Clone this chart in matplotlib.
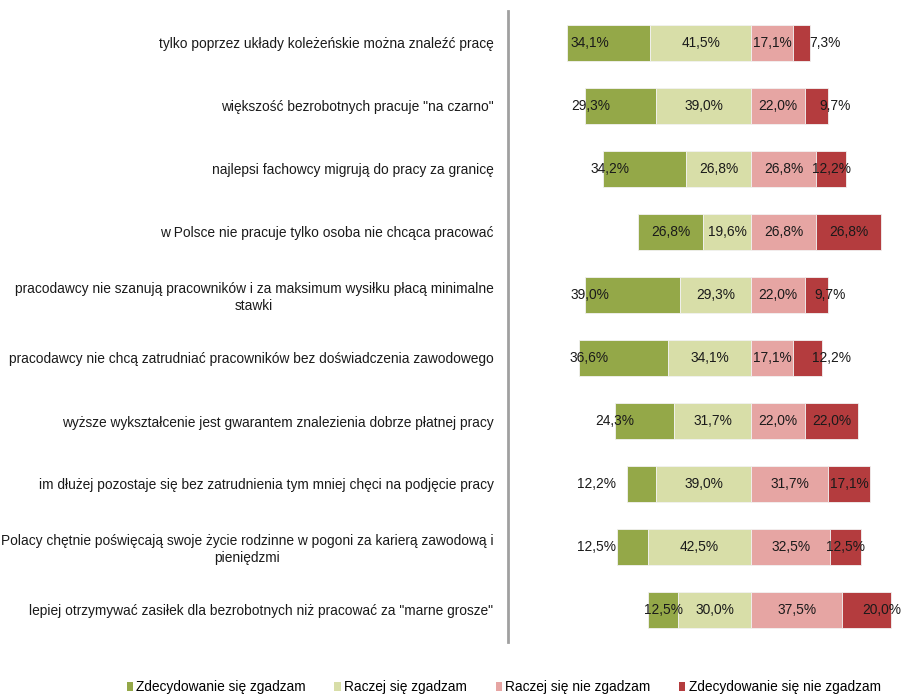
import matplotlib
matplotlib.use("Agg")
import matplotlib.pyplot as plt
import numpy as np
from matplotlib.patches import Patch

plt.rcParams['font.family'] = ['Liberation Sans Narrow', 'Liberation Sans', 'DejaVu Sans']

statements = [
    'tylko poprzez układy koleżeńskie można znaleźć pracę',
    'większość bezrobotnych pracuje "na czarno"',
    'najlepsi fachowcy migrują do pracy za granicę',
    'w Polsce nie pracuje tylko osoba nie chcąca pracować',
    'pracodawcy nie szanują pracowników i za maksimum wysiłku płacą minimalne\nstawki',
    'pracodawcy nie chcą zatrudniać pracowników bez doświadczenia zawodowego',
    'wyższe wykształcenie jest gwarantem znalezienia dobrze płatnej pracy',
    'im dłużej pozostaje się bez zatrudnienia tym mniej chęci na podjęcie pracy',
    'Polacy chętnie poświęcają swoje życie rodzinne w pogoni za karierą zawodową i\npieniędzmi',
    'lepiej otrzymywać zasiłek dla bezrobotnych niż pracować za "marne grosze"',
]
strongly_agree = [34.1, 29.3, 34.2, 26.8, 39.0, 36.6, 24.3, 12.2, 12.5, 12.5]
rather_agree = [41.5, 39.0, 26.8, 19.6, 29.3, 34.1, 31.7, 39.0, 42.5, 30.0]
rather_disagree = [17.1, 22.0, 26.8, 26.8, 22.0, 17.1, 22.0, 31.7, 32.5, 37.5]
strongly_disagree = [7.3, 9.7, 12.2, 26.8, 9.7, 12.2, 22.0, 17.1, 12.5, 20.0]
series_names = ['Zdecydowanie się zgadzam', 'Raczej się zgadzam',
                'Raczej się nie zgadzam', 'Zdecydowanie się nie zgadzam']

# label nudges (in % units) to mimic where the original put some labels
green_shift = [-7.6, -12.5, -14.0, 0, -17.3, -14.2, -12.4, -18.6, -14.9, 0]
red_shift = [9.6, 7.6, 0, 0, 5.4, 9.9, 0, 0, 0, 6.2]

colors = ['#94a848', '#d8dea8', '#e6a5a3', '#b43c3e']
fs = 9.9
txt_color = '#1a1a1a'

fig = plt.figure(figsize=(9.01, 6.94), dpi=100)
ax = fig.add_axes([508 / 901, 52.5 / 694, 393 / 901, 630 / 694])

y = np.arange(len(statements))
sa = np.array(strongly_agree)
ra = np.array(rather_agree)
rd = np.array(rather_disagree)
sd = np.array(strongly_disagree)

lefts = [-(sa + ra), -ra, np.zeros(len(y)), rd]
widths = [sa, ra, rd, sd]
h = 0.57
for left, width, c, name in zip(lefts, widths, colors, series_names):
    ax.barh(y, width, left=left, height=h, color=c, edgecolor='#f2f2f2',
            linewidth=0.6, label=name)

def fmt(v):
    return f"{v:.1f}".replace('.', ',') + '%'

for i in y:
    for k, (left, width) in enumerate(zip(lefts, widths)):
        xc = left[i] + width[i] / 2
        if k == 0:
            xc += green_shift[i]
        if k == 3:
            xc += red_shift[i]
        ax.text(xc, i, fmt(width[i]), ha='center', va='center',
                fontsize=fs, color=txt_color, clip_on=False)

ax.set_xlim(-100, 150 / 2.434)
ax.set_ylim(len(y) - 0.5, -0.5)
ax.set_yticks(y)
ax.set_yticklabels(statements, fontsize=fs, color=txt_color, multialignment='center')
ax.tick_params(axis='y', length=0, pad=10.5)
ax.set_xticks([])
for s in ['top', 'right', 'bottom']:
    ax.spines[s].set_visible(False)
ax.spines['left'].set_color('#a0a0a0')
ax.spines['left'].set_linewidth(2)

handles = [Patch(facecolor=c, edgecolor='none') for c in colors]
fig.legend(handles, series_names, loc='center', bbox_to_anchor=(0.559, 7 / 694),
           ncol=4, frameon=False, fontsize=fs, handlelength=0.45, handleheight=0.6,
           handletextpad=0.25, columnspacing=2.08, borderpad=0, borderaxespad=0)

fig.savefig('out.png', dpi=100)
